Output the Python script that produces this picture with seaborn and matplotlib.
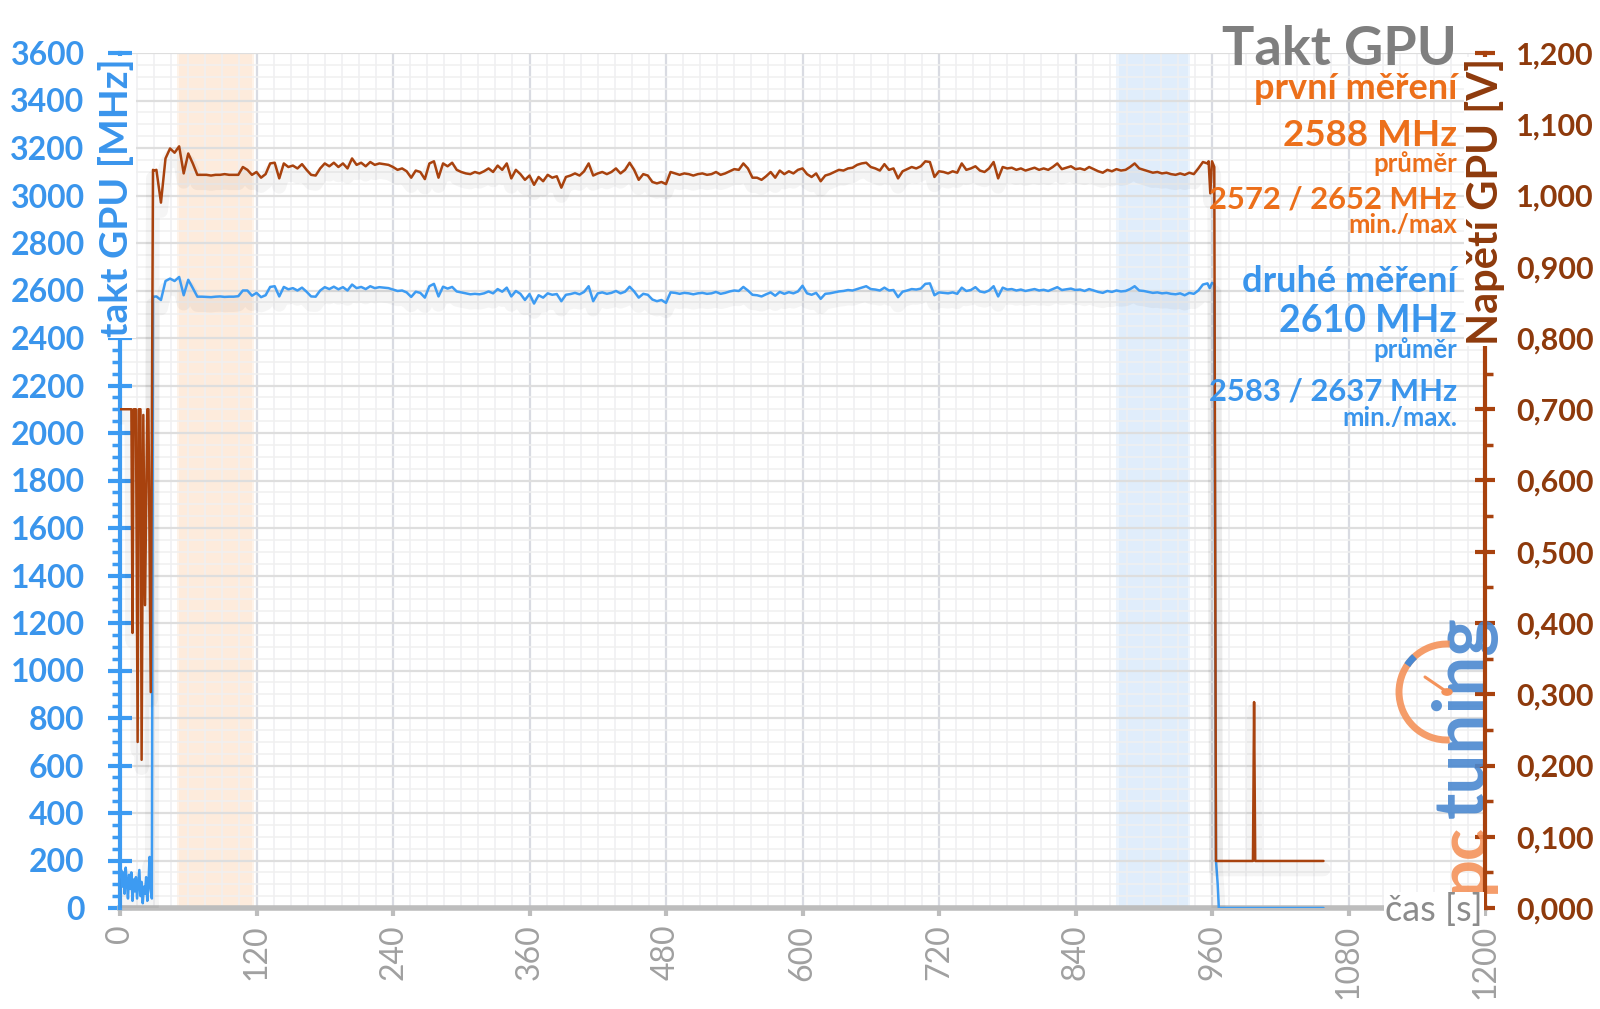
import numpy as np
import pandas as pd
import matplotlib
matplotlib.use("Agg")
import matplotlib.pyplot as plt
import matplotlib.patheffects as pe
from matplotlib.patches import Arc, Circle
from matplotlib.lines import Line2D
from matplotlib.ticker import MultipleLocator, FuncFormatter
import seaborn as sns

# ---------------- data ----------------
# start phase (first ~30 s)
t_volt_start = [0, 10, 11, 12, 14, 15.5, 16.5, 18, 19, 20.5, 22, 24, 25, 27, 29, 30]
volt_start = [0.700, 0.700, 0.386, 0.700, 0.700, 0.233, 0.700, 0.700, 0.208,
              0.692, 0.425, 0.700, 0.700, 0.303, 1.036, 1.035]
t_clock_start = list(range(0, 31))
clock_start = [130, 160, 90, 150, 60, 170, 110, 40, 140, 80, 150, 30, 120, 70, 130,
               40, 100, 160, 50, 110, 20, 90, 60, 130, 30, 100, 215, 76, 40, 2575, 2574]

# load phase, sampled every 4 s (32 .. 956 s)
t_main = list(range(32, 957, 4))
volt_main = [
    1.036, 0.990, 1.052, 1.066, 1.060, 1.069, 1.031, 1.059, 1.045, 1.029,
    1.029, 1.029, 1.028, 1.029, 1.029, 1.030, 1.029, 1.029, 1.029, 1.040,
    1.036, 1.029, 1.033, 1.025, 1.030, 1.045, 1.046, 1.024, 1.045, 1.040,
    1.042, 1.038, 1.044, 1.036, 1.029, 1.028, 1.038, 1.045, 1.041, 1.046,
    1.040, 1.045, 1.038, 1.052, 1.043, 1.046, 1.041, 1.047, 1.043, 1.045,
    1.044, 1.043, 1.040, 1.036, 1.038, 1.034, 1.025, 1.035, 1.033, 1.023,
    1.045, 1.048, 1.025, 1.045, 1.041, 1.046, 1.036, 1.033, 1.031, 1.030,
    1.033, 1.031, 1.034, 1.038, 1.033, 1.042, 1.036, 1.045, 1.024, 1.036,
    1.030, 1.022, 1.028, 1.015, 1.026, 1.020, 1.029, 1.025, 1.027, 1.011,
    1.026, 1.028, 1.031, 1.028, 1.034, 1.045, 1.028, 1.031, 1.033, 1.030,
    1.033, 1.038, 1.031, 1.036, 1.046, 1.036, 1.022, 1.030, 1.028, 1.019,
    1.017, 1.019, 1.016, 1.033, 1.031, 1.029, 1.031, 1.030, 1.028, 1.030,
    1.031, 1.029, 1.030, 1.033, 1.029, 1.031, 1.034, 1.037, 1.036, 1.045,
    1.038, 1.025, 1.025, 1.022, 1.027, 1.033, 1.025, 1.035, 1.030, 1.034,
    1.031, 1.036, 1.038, 1.030, 1.026, 1.031, 1.020, 1.028, 1.030, 1.033,
    1.036, 1.035, 1.038, 1.039, 1.043, 1.045, 1.046, 1.040, 1.038, 1.035,
    1.044, 1.036, 1.038, 1.024, 1.034, 1.037, 1.040, 1.038, 1.041, 1.048,
    1.047, 1.026, 1.034, 1.033, 1.031, 1.034, 1.032, 1.045, 1.036, 1.038,
    1.041, 1.035, 1.033, 1.038, 1.047, 1.024, 1.040, 1.038, 1.039, 1.036,
    1.038, 1.035, 1.037, 1.039, 1.036, 1.038, 1.036, 1.040, 1.045, 1.037,
    1.039, 1.041, 1.037, 1.038, 1.036, 1.040, 1.037, 1.034, 1.032, 1.036,
    1.034, 1.037, 1.035, 1.036, 1.040, 1.045, 1.038, 1.036, 1.034, 1.032,
    1.033, 1.031, 1.032, 1.030, 1.029, 1.031, 1.029, 1.032, 1.030, 1.038,
    1.047, 1.045,
]
clock_main = [
    2575, 2560, 2640, 2650, 2640, 2657, 2580, 2645, 2610, 2574,
    2574, 2573, 2572, 2574, 2575, 2573, 2574, 2574, 2576, 2600,
    2600, 2578, 2590, 2572, 2580, 2615, 2618, 2575, 2615, 2605,
    2610, 2600, 2612, 2595, 2575, 2574, 2600, 2614, 2606, 2616,
    2605, 2614, 2600, 2625, 2610, 2615, 2606, 2618, 2610, 2614,
    2612, 2610, 2604, 2598, 2600, 2592, 2573, 2595, 2590, 2570,
    2618, 2628, 2575, 2616, 2608, 2615, 2596, 2592, 2588, 2584,
    2586, 2584, 2588, 2596, 2588, 2606, 2595, 2612, 2575, 2598,
    2586, 2560, 2585, 2545, 2580, 2570, 2588, 2582, 2585, 2555,
    2582, 2585, 2590, 2584, 2594, 2618, 2555, 2588, 2592, 2586,
    2590, 2598, 2588, 2595, 2616, 2596, 2570, 2586, 2582, 2562,
    2555, 2560, 2548, 2592, 2590, 2586, 2590, 2588, 2584, 2588,
    2590, 2586, 2588, 2594, 2586, 2590, 2596, 2600, 2598, 2615,
    2600, 2582, 2580, 2575, 2584, 2592, 2578, 2594, 2586, 2593,
    2588, 2596, 2620, 2588, 2582, 2590, 2565, 2586, 2588, 2592,
    2596, 2598, 2602, 2600, 2606, 2612, 2618, 2606, 2604, 2600,
    2612, 2600, 2602, 2572, 2595, 2600, 2606, 2604, 2608, 2628,
    2630, 2580, 2592, 2590, 2588, 2592, 2586, 2612, 2598, 2602,
    2614, 2596, 2592, 2600, 2618, 2575, 2612, 2604, 2606, 2600,
    2604, 2598, 2602, 2606, 2600, 2603, 2598, 2606, 2614, 2602,
    2605, 2608, 2602, 2604, 2598, 2606, 2600, 2594, 2590, 2598,
    2594, 2600, 2596, 2598, 2606, 2618, 2600, 2598, 2594, 2590,
    2592, 2588, 2590, 2586, 2584, 2588, 2580, 2590, 2586, 2600,
    2625, 2630,
]

# end phase
t_volt_end = [957, 958.5, 960, 962, 963.5, 996, 997, 998, 1058]
volt_end = [1.048, 1.003, 1.048, 1.040, 0.066, 0.066, 0.289, 0.066, 0.066]
t_clock_end = [958, 960, 962, 963.5, 965, 966, 1058]
clock_end = [2610, 2632, 2628, 200, 100, 0, 0]

# highlighted intervals
band_first = (50, 118)
band_second = (876, 941)

x_ticks = list(range(0, 1201, 120))

# ---------------- style ----------------
sns.set_theme(style="white")
plt.rcParams["font.family"] = ["Lato", "DejaVu Sans"]

BLUE = "#3D9BF2"
BLUE_TXT = "#3A95EC"
BROWN_LINE = "#A8420E"
BROWN = "#8E3A0C"
ORANGE = "#EC6F1A"
GREY_TITLE = "#7F7F7F"
GREY_AX = "#BDBDBD"
GREY_TXT = "#A0A0A0"

W, H = 1600, 1009
fig = plt.figure(figsize=(W / 100, H / 100), dpi=100)
fig.patch.set_facecolor("white")
ax = fig.add_axes([120 / W, 1 - 908 / H, (1485 - 120) / W, (908 - 53) / H])
ax2 = ax.twinx()

df_clock = pd.DataFrame({"t": t_clock_start + t_main + t_clock_end,
                         "mhz": clock_start + clock_main + clock_end})
df_volt = pd.DataFrame({"t": t_volt_start + t_main + t_volt_end,
                        "v": volt_start + volt_main + volt_end})

# bands (soft edges)
for (a, b), col in [(band_first, "#FDE5D0"), (band_second, "#D5E7FB")]:
    ax.axvspan(a, b, color=col, alpha=0.45, lw=0, zorder=0.2)
    ax.axvspan(a + 2, b - 2, color=col, alpha=0.5, lw=0, zorder=0.2)

shadow = [pe.SimpleLineShadow(offset=(0, -6), shadow_color="#000000", alpha=0.04, linewidth=10),
          pe.Normal()]

sns.lineplot(data=df_clock, x="t", y="mhz", ax=ax, color=BLUE, linewidth=1.8,
             estimator=None, sort=False, legend=False, zorder=4)
ax.lines[-1].set_path_effects(shadow)
sns.lineplot(data=df_volt, x="t", y="v", ax=ax2, color=BROWN_LINE, linewidth=1.8,
             estimator=None, sort=False, legend=False)
ax2.lines[-1].set_path_effects(shadow)

# limits / ticks
ax.set_xlim(0, 1200)
ax.set_ylim(0, 3600)
ax2.set_ylim(0, 1.2)
ax.set_xticks(x_ticks)
ax.xaxis.set_minor_locator(MultipleLocator(15))
ax.yaxis.set_major_locator(MultipleLocator(200))
ax.yaxis.set_minor_locator(MultipleLocator(50))
ax2.yaxis.set_major_locator(MultipleLocator(0.1))
ax2.yaxis.set_minor_locator(MultipleLocator(0.05))
ax2.yaxis.set_major_formatter(FuncFormatter(lambda v, p: f"{v:.3f}".replace(".", ",")))

ax.set_xlabel("")
ax.set_ylabel("")
ax2.set_ylabel("")

# grid
ax.set_axisbelow(True)
ax.grid(which="major", axis="x", color="#D9DBE2", linewidth=1.6)
ax.grid(which="minor", axis="x", color="#EFEFF1", linewidth=1.1)
ax.grid(which="major", axis="y", color="#DEDEDE", linewidth=1.6)
ax.grid(which="minor", axis="y", color="#F0F0F0", linewidth=1.1)

# spines
for s in ["top", "right"]:
    ax.spines[s].set_visible(False)
for s in ["top", "left", "bottom"]:
    ax2.spines[s].set_visible(False)
ax.spines["left"].set_color(BLUE)
ax.spines["left"].set_linewidth(3)
ax.spines["bottom"].set_color(GREY_AX)
ax.spines["bottom"].set_linewidth(4)
ax.spines["bottom"].set_zorder(1.5)
ax2.spines["right"].set_color(BROWN_LINE)
ax2.spines["right"].set_linewidth(3)

ax.tick_params(axis="y", which="major", direction="inout", length=17, width=3,
               color=BLUE, labelcolor=BLUE_TXT, labelsize=23, pad=17, left=True)
ax.tick_params(axis="y", which="minor", direction="out", length=6, width=2.5,
               color=BLUE, left=True)
ax.tick_params(axis="x", which="major", direction="out", length=6, width=3,
               color=GREY_AX, labelcolor=GREY_TXT, labelsize=23, pad=6,
               labelrotation=90, bottom=True)
ax.tick_params(axis="x", which="minor", length=0)
ax2.tick_params(axis="y", which="major", direction="inout", length=15, width=3,
                color=BROWN_LINE, labelcolor=BROWN, labelsize=22, pad=15, right=True)
ax2.tick_params(axis="y", which="minor", direction="out", length=6, width=2.5,
                color=BROWN_LINE, right=True)


def fx(px):
    return px / W


def fy(py):
    return 1 - py / H


# logo (below the right spine)
LOGO_O = "#F4925A"
LOGO_B = "#4A88D0"
ax2.text(fx(1464), fy(893), "pc", rotation=90, ha="center", va="bottom",
         fontsize=48, fontweight="bold", color=LOGO_O, alpha=0.9,
         transform=fig.transFigure, zorder=1)
ax2.text(fx(1464), fy(818), "tuning", rotation=90, ha="center", va="bottom",
         fontsize=51, fontweight="bold", color=LOGO_B, alpha=0.9,
         transform=fig.transFigure, zorder=1)
r = 48
arc = Arc((fx(1447), fy(692)), 2 * r / W, 2 * r / H, theta1=88, theta2=272,
          color=LOGO_O, linewidth=5, alpha=0.9, transform=fig.transFigure, zorder=1)
ax2.add_artist(arc)
arc2 = Arc((fx(1447), fy(692)), 2 * r / W, 2 * r / H, theta1=120, theta2=133,
           color=LOGO_B, linewidth=5, transform=fig.transFigure, zorder=1)
ax2.add_artist(arc2)
needle = Line2D([fx(1447), fx(1425)], [fy(692), fy(677)], color=LOGO_O,
                linewidth=2.2, transform=fig.transFigure, zorder=1)
ax2.add_artist(needle)
dot = Circle((fx(1447), fy(692)), 5 / W, color=LOGO_O, transform=fig.transFigure, zorder=1)
ax2.add_artist(dot)

# axis labels (with white backing over the spines)
wb = dict(facecolor="white", edgecolor="none", pad=1)
fig.text(fx(116), fy(58), "takt GPU [MHz]", rotation=90, ha="center", va="top",
         fontsize=28, fontweight="bold", color=BLUE_TXT, bbox=wb)
fig.text(fx(1485), fy(58), "Napětí GPU [V]", rotation=90, ha="center", va="top",
         fontsize=30, fontweight="bold", color=BROWN, bbox=wb)
fig.text(fx(1483), fy(921), "čas [s]", ha="right", va="baseline",
         fontsize=26, color="#8C8C8C", bbox=wb)

# title and annotation block
RX = fx(1457)
fig.text(RX, fy(65), "Takt GPU", ha="right", va="baseline", fontsize=39,
         fontweight="bold", color=GREY_TITLE)
fig.text(RX, fy(99), "první měření", ha="right", va="baseline", fontsize=26,
         fontweight="bold", color=ORANGE)
fig.text(RX, fy(146), "2588 MHz", ha="right", va="baseline", fontsize=26.5,
         fontweight="bold", color=ORANGE)
fig.text(RX, fy(172), "průměr", ha="right", va="baseline", fontsize=18.5,
         fontweight="bold", color=ORANGE)
fig.text(RX, fy(208), "2572 / 2652 MHz", ha="right", va="baseline", fontsize=22.3,
         fontweight="bold", color=ORANGE)
fig.text(RX, fy(233), "min./max", ha="right", va="baseline", fontsize=18.5,
         fontweight="bold", color=ORANGE)
fig.text(RX, fy(292), "druhé měření", ha="right", va="baseline", fontsize=26,
         fontweight="bold", color=BLUE_TXT)
fig.text(RX, fy(332), "2610 MHz", ha="right", va="baseline", fontsize=27,
         fontweight="bold", color=BLUE_TXT)
fig.text(RX, fy(358), "průměr", ha="right", va="baseline", fontsize=18.5,
         fontweight="bold", color=BLUE_TXT)
fig.text(RX, fy(401), "2583 / 2637 MHz", ha="right", va="baseline", fontsize=22.3,
         fontweight="bold", color=BLUE_TXT)
fig.text(RX, fy(426), "min./max.", ha="right", va="baseline", fontsize=18.5,
         fontweight="bold", color=BLUE_TXT)

fig.canvas.draw()
for lab in ax.get_yticklabels() + ax2.get_yticklabels():
    lab.set_fontweight("bold")

fig.savefig("out.png", dpi=100, facecolor="white")
